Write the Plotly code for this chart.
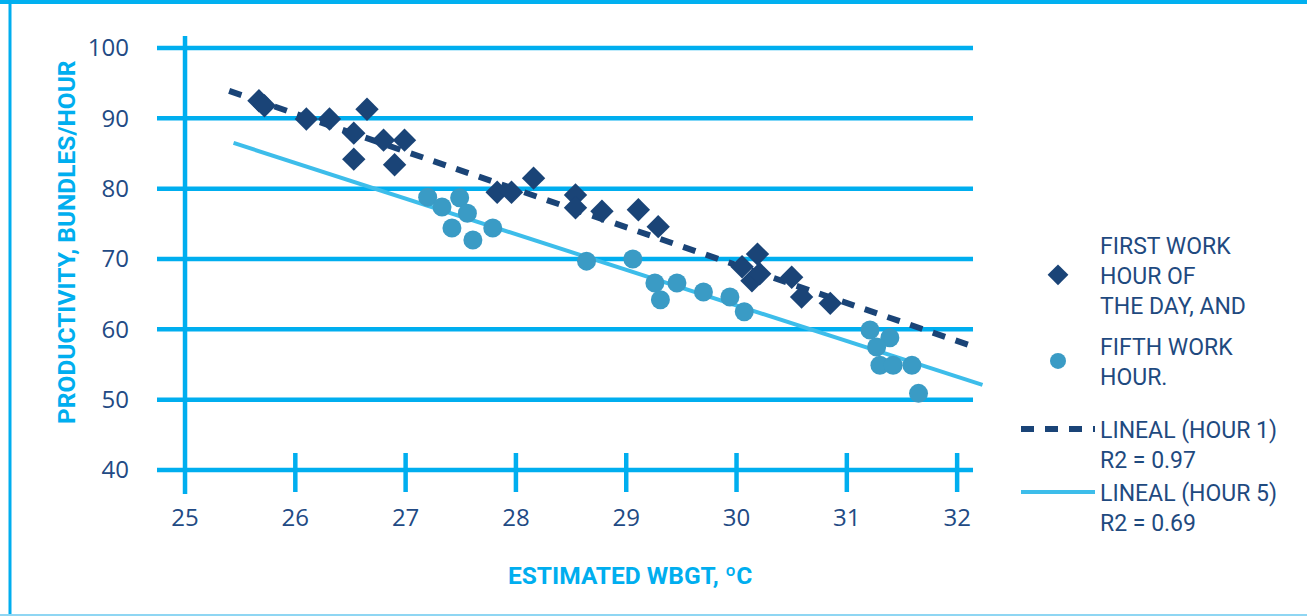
import plotly.graph_objects as go

# ---------------- data ----------------
hour1_x = [25.67, 25.72, 26.10, 26.31, 26.53, 26.53, 26.65, 26.80, 26.90, 26.99,
           27.83, 27.96, 28.16, 28.54, 28.54, 28.78, 29.11, 29.29,
           30.05, 30.19, 30.14, 30.21, 30.50, 30.59, 30.85]
hour1_y = [92.5, 91.8, 89.9, 89.9, 87.9, 84.2, 91.3, 86.9, 83.4, 86.9,
           79.5, 79.5, 81.5, 79.1, 77.3, 76.8, 77.0, 74.6,
           68.9, 70.7, 66.9, 67.9, 67.4, 64.6, 63.7]

hour5_x = [27.20, 27.33, 27.49, 27.56, 27.42, 27.61, 27.79,
           28.64, 29.06, 29.26, 29.31, 29.46, 29.70, 29.94, 30.07,
           31.21, 31.39, 31.27, 31.30, 31.42, 31.59, 31.65]
hour5_y = [78.8, 77.4, 78.7, 76.5, 74.4, 72.7, 74.4,
           69.7, 70.0, 66.6, 64.2, 66.6, 65.3, 64.6, 62.5,
           59.9, 58.8, 57.5, 54.9, 54.9, 54.9, 50.9]

trend1_x = [25.40, 32.14]
trend1_y = [93.9, 57.6]
trend5_x = [25.44, 32.23]
trend5_y = [86.5, 52.1]

x_ticks = [25, 26, 27, 28, 29, 30, 31, 32]
y_ticks = [40, 50, 60, 70, 80, 90, 100]

names = ["FIRST WORK<br>HOUR OF<br>THE DAY, AND",
         "FIFTH WORK<br>HOUR.",
         "LINEAL (HOUR 1)<br>R2 = 0.97",
         "LINEAL (HOUR 5)<br>R2 = 0.69"]

x_title = "ESTIMATED WBGT, ºC"
y_title = "PRODUCTIVITY, BUNDLES/HOUR"

# ---------------- style ----------------
NAVY = "#1a4477"
DOT = "#3a9bc5"
LIGHT = "#00aeef"
SOLID = "#3dbdea"
TEXT = "#224a84"
TITLE_FONT = "Roboto, Liberation Sans Narrow, sans-serif"
LEGEND_FONT = "Roboto, Liberation Sans Narrow, sans-serif"

W, H = 1307, 616
ML, MR, MT, MB = 157, 317, 36, 122
x_range = [24.746, 32.298]
y_range = [36.59, 101.71]
grid_x_end = 32.144

def px_x(p):  # pixel -> paper x
    return (p - ML) / (W - ML - MR)

def px_y(p):  # pixel -> paper y
    return (H - MB - p) / (H - MT - MB)

fig = go.Figure()

fig.add_trace(go.Scatter(x=trend1_x, y=trend1_y, mode="lines", name=names[2],
                         line=dict(color=NAVY, width=6, dash="13px,11px"),
                         legend="legend3"))
fig.add_trace(go.Scatter(x=trend5_x, y=trend5_y, mode="lines", name=names[3],
                         line=dict(color=SOLID, width=4),
                         legend="legend4"))
fig.add_trace(go.Scatter(x=hour1_x, y=hour1_y, mode="markers", name=names[0],
                         marker=dict(symbol="diamond", size=18, color=NAVY),
                         legend="legend"))
fig.add_trace(go.Scatter(x=hour5_x, y=hour5_y, mode="markers", name=names[1],
                         marker=dict(symbol="circle", size=19, color=DOT),
                         legend="legend2"))

shapes = []
for v in y_ticks:
    shapes.append(dict(type="line", xref="x", yref="y", x0=x_range[0], x1=grid_x_end,
                       y0=v, y1=v, line=dict(color=LIGHT, width=4.5), layer="below"))
shapes.append(dict(type="line", xref="x", yref="y", x0=x_ticks[0], x1=x_ticks[0],
                   y0=y_range[0], y1=y_range[1], line=dict(color=LIGHT, width=4.5), layer="below"))
for v in x_ticks[1:]:
    shapes.append(dict(type="line", xref="x", yref="y", x0=v, x1=v,
                       y0=36.87, y1=42.42, line=dict(color=LIGHT, width=4.5), layer="below"))
# frame
shapes.append(dict(type="line", xref="paper", yref="paper", x0=px_x(0), x1=px_x(W),
                   y0=px_y(2), y1=px_y(2), line=dict(color="#00b0f0", width=4)))
shapes.append(dict(type="line", xref="paper", yref="paper", x0=px_x(10), x1=px_x(10),
                   y0=px_y(0), y1=px_y(W), line=dict(color=LIGHT, width=3)))
shapes.append(dict(type="line", xref="paper", yref="paper", x0=px_x(0), x1=px_x(W),
                   y0=px_y(615), y1=px_y(615), line=dict(color="#8fd6f3", width=2)))

legend_common = dict(font=dict(family=LEGEND_FONT, size=23, color="#1f4a7f"),
                     bgcolor="rgba(0,0,0,0)", xanchor="left", yanchor="middle",
                     itemwidth=74, x=px_x(1016))

fig.update_layout(
    width=W, height=H, autosize=False,
    margin=dict(l=ML, r=MR, t=MT, b=MB, pad=0),
    paper_bgcolor="white", plot_bgcolor="white",
    showlegend=True,
    xaxis=dict(range=x_range, tickvals=x_ticks, showgrid=False, zeroline=False,
               showline=False, ticks="", ticklabelstandoff=7,
               tickfont=dict(family="Open Sans", size=24, color=TEXT), fixedrange=True),
    yaxis=dict(range=y_range, tickvals=y_ticks, showgrid=False, zeroline=False,
               showline=False, ticks="", ticklabelstandoff=27,
               tickfont=dict(family="Open Sans", size=24, color=TEXT), fixedrange=True),
    shapes=shapes,
    legend=dict(**legend_common, y=px_y(275), valign="middle"),
    legend2=dict(**legend_common, y=px_y(361), valign="middle"),
    legend3=dict(**legend_common, y=px_y(444), valign="top"),
    legend4=dict(**legend_common, y=px_y(507), valign="top"),
    annotations=[
        dict(text="<b>" + x_title + "</b>", xref="paper", yref="paper",
             x=px_x(630), y=px_y(575), showarrow=False, xanchor="center", yanchor="middle",
             font=dict(family=TITLE_FONT, size=24.5, color=LIGHT)),
        dict(text="<b>" + y_title + "</b>", xref="paper", yref="paper",
             x=px_x(66), y=px_y(242), showarrow=False, xanchor="center", yanchor="middle",
             textangle=-90, font=dict(family=TITLE_FONT, size=24.5, color=LIGHT)),
    ],
)

fig.write_html("out.html", config={"displayModeBar": False},
               post_script="document.body.style.margin='0';document.body.style.overflow='hidden';")
